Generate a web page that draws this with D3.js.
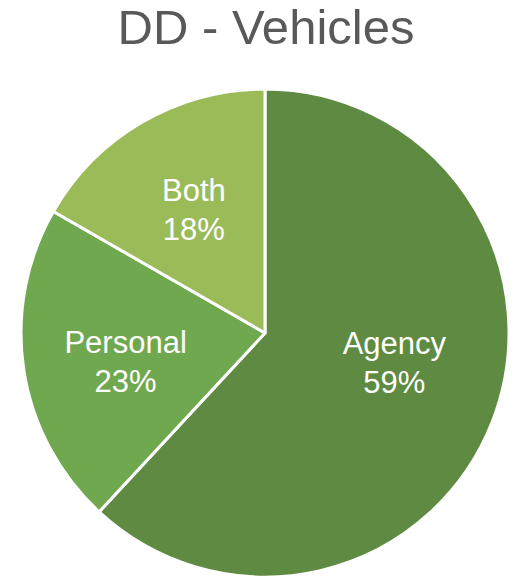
<!DOCTYPE html>
<html>
<head>
<meta charset="utf-8">
<script src="https://cdn.jsdelivr.net/npm/d3@7"></script>
<style>
  body { margin: 0; background: #fff; }
  svg { display: block; }
</style>
</head>
<body>
<div></div>
<script>
const width = 516;
const height = 578;

// slice sizes as drawn in the picture; labels as printed on it
const categories = ['Agency', 'Personal', 'Both'];
const sliceShares = [61.9, 21.4, 16.7];
const labelText = ['59%', '23%', '18%'];
const colors = ['#5E8B41', '#70A850', '#9BBB59'];

const svg = d3.select('div').append('svg').attr('width', width).attr('height', height);

svg.append('text')
    .attr('x', 266)
    .attr('y', 44)
    .attr('text-anchor', 'middle')
    .attr('font-family', "'Liberation Sans', Arial, sans-serif")
    .attr('font-size', 49)
    .attr('fill', '#595959')
    .text('DD - Vehicles');

const cx = 265, cy = 333, radius = 244;

const pie = d3.pie().sort(null).value(d => d.value);
const data = categories.map((c, i) => ({ name: c, value: sliceShares[i], label: labelText[i], color: colors[i] }));
const arcs = pie(data);

const arc = d3.arc().innerRadius(0).outerRadius(radius);
const labelArc = d3.arc().innerRadius(140).outerRadius(140);
// small vertical nudges like the original's label placement
const nudge = [-21, 8, -2];

const g = svg.append('g').attr('transform', 'translate(' + cx + ',' + cy + ')');

g.selectAll('path').data(arcs)
    .enter().append('path')
    .attr('d', arc)
    .attr('fill', d => d.data.color)
    .attr('stroke', '#fff')
    .attr('stroke-width', 3)
    .attr('stroke-linejoin', 'round');

const labels = g.selectAll('text.lbl').data(arcs)
    .enter().append('text')
    .attr('class', 'lbl')
    .attr('text-anchor', 'middle')
    .attr('font-family', "'Liberation Sans', Arial, sans-serif")
    .attr('font-size', 31)
    .attr('fill', '#fff')
    .attr('transform', (d, i) => {
        const c = labelArc.centroid(d);
        return 'translate(' + (c[0] - 1) + ',' + (c[1] + nudge[i]) + ')';
    });

labels.append('tspan').attr('x', 0).attr('y', -9).text(d => d.data.name);
labels.append('tspan').attr('x', 0).attr('y', 30).text(d => d.data.label);
</script>
</body>
</html>
